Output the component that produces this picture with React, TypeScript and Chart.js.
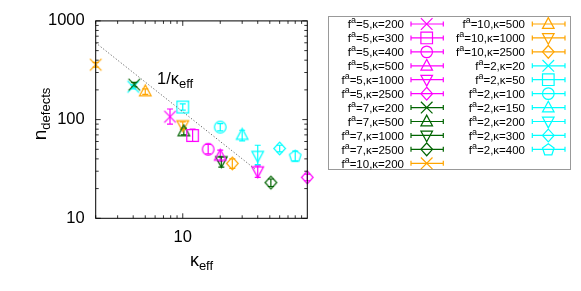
import React, { useEffect, useRef } from "react";
import { Chart, registerables } from "chart.js";
Chart.register(...registerables);

const MAGENTA = "#ff00ff";
const GREEN = "#006400";
const ORANGE = "#ffa500";
const CYAN = "#00ffff";

// series: f^a value and kappa
const fValues = [5, 5, 5, 5, 5, 5, 7, 7, 7, 7, 10, 10, 10, 10, 2, 2, 2, 2, 2, 2, 2];
const kappaValues = [200, 300, 400, 500, 1000, 2500, 200, 500, 1000, 2500, 200, 500, 1000, 2500, 20, 50, 100, 150, 200, 300, 400];
// measured points
const kappaEff = [7.9, 12, 16, 20, 40, 100, 4.08, 10.2, 20.4, 51, 2, 5, 10, 25, 4, 10, 20, 30, 40, 60, 80];
const nDefects = [107, 69, 50, 43, 30, 26, 226, 76, 38, 23, 360, 193, 88, 36, 215, 134, 84, 70, 43, 51, 43];
const nLow = [90, 60, 45, 38, 26, 24, 215, 70, 33, 21, 340, 180, 80, 32, 205, 125, 77, 61, 35, 47, 38];
const nHigh = [128, 80, 56, 49, 34, 28, 238, 82, 42, 25, 380, 205, 95, 40, 225, 144, 91, 78, 55, 55, 48];
const markerShapes = ["x", "square", "circle", "triUp", "triDown", "diamond", "x", "triUp", "triDown", "diamond", "x", "triUp", "triDown", "diamond", "x", "square", "circle", "triUp", "triDown", "diamond", "pentagon"];
const seriesColors = [MAGENTA, MAGENTA, MAGENTA, MAGENTA, MAGENTA, MAGENTA, GREEN, GREEN, GREEN, GREEN, ORANGE, ORANGE, ORANGE, ORANGE, CYAN, CYAN, CYAN, CYAN, CYAN, CYAN, CYAN];

// 1/kappa_eff guide line
const fitKappa = [2, 38];
const fitN = [600, 31.6];

const xTicks = [10];
const yTicks = [10, 100, 1000];

const FONT = '"Liberation Sans", Arial, sans-serif';

function drawMarker(ctx: CanvasRenderingContext2D, shape: string, x: number, y: number, color: string) {
  ctx.save();
  ctx.strokeStyle = color;
  ctx.lineWidth = 1.2;
  ctx.beginPath();
  const r = 5.8;
  switch (shape) {
    case "x":
      ctx.moveTo(x - r, y - r); ctx.lineTo(x + r, y + r);
      ctx.moveTo(x - r, y + r); ctx.lineTo(x + r, y - r);
      break;
    case "square":
      ctx.rect(x - r, y - r, 2 * r, 2 * r);
      break;
    case "circle":
      ctx.arc(x, y, r, 0, Math.PI * 2);
      break;
    case "triUp":
      ctx.moveTo(x, y - r * 1.1); ctx.lineTo(x + r, y + r * 0.75); ctx.lineTo(x - r, y + r * 0.75); ctx.closePath();
      break;
    case "triDown":
      ctx.moveTo(x, y + r * 1.1); ctx.lineTo(x + r, y - r * 0.75); ctx.lineTo(x - r, y - r * 0.75); ctx.closePath();
      break;
    case "diamond":
      ctx.moveTo(x, y - r * 1.1); ctx.lineTo(x + r, y); ctx.lineTo(x, y + r * 1.1); ctx.lineTo(x - r, y); ctx.closePath();
      break;
    case "pentagon":
      for (let i = 0; i < 5; i++) {
        const a = -Math.PI / 2 + (i * 2 * Math.PI) / 5;
        const px = x + r * 1.05 * Math.cos(a), py = y + r * 1.05 * Math.sin(a) + 0.5;
        if (i === 0) ctx.moveTo(px, py); else ctx.lineTo(px, py);
      }
      ctx.closePath();
      break;
  }
  ctx.stroke();
  ctx.restore();
}

function makeMarkerImage(shape: string, color: string) {
  const c = document.createElement("canvas");
  c.width = 17; c.height = 17;
  const g = c.getContext("2d")!;
  drawMarker(g, shape, 8.5, 8.5, color);
  return c;
}

const errorBarPlugin = {
  id: "errorBars",
  beforeDatasetsDraw(chart: any) {
    const ctx = chart.ctx as CanvasRenderingContext2D;
    const xs = chart.scales.x, ys = chart.scales.y;
    ctx.save();
    ctx.lineWidth = 1.2;
    kappaEff.forEach((k, i) => {
      const x = xs.getPixelForValue(k);
      const y1 = ys.getPixelForValue(nLow[i]);
      const y2 = ys.getPixelForValue(nHigh[i]);
      ctx.strokeStyle = seriesColors[i];
      ctx.beginPath();
      ctx.moveTo(x, y1); ctx.lineTo(x, y2);
      ctx.moveTo(x - 3, y1); ctx.lineTo(x + 3, y1);
      ctx.moveTo(x - 3, y2); ctx.lineTo(x + 3, y2);
      ctx.stroke();
    });
    ctx.restore();
  },
};

const framePlugin = {
  id: "frame",
  afterDraw(chart: any) {
    const ctx = chart.ctx as CanvasRenderingContext2D;
    const { left, right, top, bottom } = chart.chartArea;
    const xs = chart.scales.x, ys = chart.scales.y;
    ctx.save();
    // ticks
    ctx.strokeStyle = "#333";
    ctx.lineWidth = 1;
    ctx.beginPath();
    for (let d = 1; d <= 10; d *= 10) {
      for (let m = 1; m <= 9; m++) {
        const v = m * d;
        if (v < 2 || v > 100) continue;
        const x = xs.getPixelForValue(v);
        const len = m === 1 ? 5 : 3;
        ctx.moveTo(x, bottom); ctx.lineTo(x, bottom - len);
        ctx.moveTo(x, top); ctx.lineTo(x, top + len);
      }
    }
    for (let d = 10; d <= 1000; d *= 10) {
      for (let m = 1; m <= 9; m++) {
        const v = m * d;
        if (v > 1000) continue;
        const y = ys.getPixelForValue(v);
        const len = m === 1 ? 5 : 3;
        ctx.moveTo(left, y); ctx.lineTo(left + len, y);
        ctx.moveTo(right, y); ctx.lineTo(right - len, y);
      }
    }
    ctx.stroke();
    // border
    ctx.strokeStyle = "#000";
    ctx.strokeRect(left, top, right - left, bottom - top);

    // axis titles
    ctx.fillStyle = "#000";
    ctx.textBaseline = "alphabetic";
    // x title
    ctx.font = `18px ${FONT}`;
    const wk = ctx.measureText("κ").width;
    ctx.font = `13px ${FONT}`;
    const we = ctx.measureText("eff").width;
    let tx = (left + right) / 2 - (wk + we) / 2;
    ctx.font = `18px ${FONT}`;
    ctx.fillText("κ", tx, 265.5);
    ctx.font = `13px ${FONT}`;
    ctx.fillText("eff", tx + wk, 269.5);

    // y title
    ctx.save();
    ctx.translate(45.5, 114);
    ctx.rotate(-Math.PI / 2);
    ctx.font = `19px ${FONT}`;
    const wn = ctx.measureText("n").width;
    ctx.font = `13px ${FONT}`;
    const wd = ctx.measureText("defects").width;
    const sx = -(wn + wd) / 2;
    ctx.font = `19px ${FONT}`;
    ctx.fillText("n", sx, 0);
    ctx.font = `13px ${FONT}`;
    ctx.fillText("defects", sx + wn, 4);
    ctx.restore();

    // 1/kappa_eff annotation
    ctx.font = `16.5px ${FONT}`;
    ctx.fillText("1/κ", 157, 83.5);
    const w1 = ctx.measureText("1/κ").width;
    ctx.font = `13px ${FONT}`;
    ctx.fillText("eff", 157 + w1, 87.5);

    // legend
    const bx = 328.5, by = 16.5, bw = 242, bh = 153;
    ctx.strokeStyle = "#999";
    ctx.lineWidth = 1;
    ctx.strokeRect(bx, by, bw, bh);
    const rowStep = 13.93;
    const cols = [
      { textRight: 404, x1: 411, x2: 443.3, mx: 426.7 },
      { textRight: 525, x1: 532.3, x2: 565, mx: 548.3 },
    ];
    fValues.forEach((f, i) => {
      const col = i < 11 ? cols[0] : cols[1];
      const row = i < 11 ? i : i - 11;
      const y = 24 + row * rowStep;
      const main = `11.5px ${FONT}`;
      const sup = `9px ${FONT}`;
      const rest = `=${f},κ=${kappaValues[i]}`;
      ctx.font = main;
      const wf = ctx.measureText("f").width;
      const wr = ctx.measureText(rest).width;
      ctx.font = sup;
      const wa = ctx.measureText("a").width;
      let x = col.textRight - (wf + wa + wr);
      const base = y + 4.2;
      ctx.fillStyle = "#000";
      ctx.font = main; ctx.fillText("f", x, base); x += wf;
      ctx.font = sup; ctx.fillText("a", x, base - 5); x += wa;
      ctx.font = main; ctx.fillText(rest, x, base);
      ctx.strokeStyle = seriesColors[i];
      ctx.lineWidth = 1.2;
      ctx.beginPath();
      ctx.moveTo(col.x1, y); ctx.lineTo(col.x2, y);
      ctx.moveTo(col.x1, y - 2.5); ctx.lineTo(col.x1, y + 2.5);
      ctx.moveTo(col.x2, y - 2.5); ctx.lineTo(col.x2, y + 2.5);
      ctx.stroke();
      drawMarker(ctx, markerShapes[i], col.mx, y, seriesColors[i]);
    });
    ctx.restore();
  },
};

export default function App() {
  const ref = useRef<HTMLCanvasElement>(null);
  useEffect(() => {
    if (!ref.current) return;
    const datasets: any[] = kappaEff.map((k, i) => ({
      label: `f^a=${fValues[i]},κ=${kappaValues[i]}`,
      data: [{ x: k, y: nDefects[i] }],
      showLine: false,
      pointStyle: makeMarkerImage(markerShapes[i], seriesColors[i]),
      pointRadius: 8,
      borderColor: seriesColors[i],
      backgroundColor: seriesColors[i],
      clip: false,
    }));
    datasets.unshift({
      label: "1/κ_eff",
      data: fitKappa.map((k, i) => ({ x: k, y: fitN[i] })),
      showLine: true,
      borderColor: "#666",
      borderWidth: 1,
      borderDash: [1.2, 2],
      pointRadius: 0,
      clip: false,
    });
    const chart = new Chart(ref.current, {
      type: "scatter",
      data: { datasets },
      options: {
        animation: false,
        responsive: false,
        devicePixelRatio: 1,
        layout: { padding: { left: 0, top: 15.7, right: 273.7, bottom: 0 } },
        plugins: { legend: { display: false }, tooltip: { enabled: false } },
        scales: {
          x: {
            type: "logarithmic",
            min: 2,
            max: 100,
            grid: { display: false, drawTicks: false },
            border: { display: false },
            afterBuildTicks: (s: any) => { s.ticks = xTicks.map((v) => ({ value: v })); },
            afterFit: (s: any) => { s.height = 72.7; },
            ticks: {
              padding: 9,
              color: "#000",
              font: { family: FONT, size: 16.5 },
              callback: (v: any) => String(v),
              autoSkip: false,
              maxRotation: 0,
            },
          },
          y: {
            type: "logarithmic",
            min: 10,
            max: 1000,
            grid: { display: false, drawTicks: false },
            border: { display: false },
            afterBuildTicks: (s: any) => { s.ticks = yTicks.map((v) => ({ value: v })); },
            afterFit: (s: any) => { s.width = 95.7; },
            ticks: {
              padding: 11,
              color: "#000",
              font: { family: FONT, size: 16.5 },
              callback: (v: any) => String(v),
              autoSkip: false,
            },
          },
        },
      },
      plugins: [errorBarPlugin, framePlugin],
    });
    return () => chart.destroy();
  }, []);
  return (
    <div style={{ position: "fixed", left: 0, top: 0, width: 581, height: 291, background: "#fff" }}>
      <canvas ref={ref} width={581} height={291} />
    </div>
  );
}
